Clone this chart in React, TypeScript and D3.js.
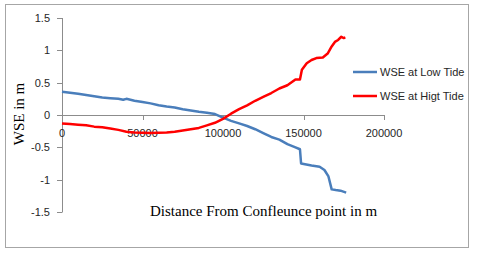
import React from "react";
import * as d3 from "d3";

const xTicks = [0, 50000, 100000, 150000, 200000];
const yTicks = [1.5, 1, 0.5, 0, -0.5, -1, -1.5];

const lowX = [0, 5000, 10000, 15000, 20000, 25000, 30000, 35000, 38000, 40000, 45000, 50000, 55000, 60000, 65000, 70000, 75000, 80000, 85000, 90000, 95000, 100000, 105000, 110000, 115000, 120000, 125000, 130000, 135000, 140000, 145000, 147800, 148500, 155000, 160000, 163000, 165500, 167500, 170000, 173000, 176500];
const lowY = [0.36, 0.345, 0.33, 0.31, 0.29, 0.27, 0.26, 0.25, 0.235, 0.25, 0.22, 0.2, 0.18, 0.15, 0.13, 0.115, 0.09, 0.07, 0.05, 0.035, 0.015, -0.04, -0.09, -0.13, -0.17, -0.22, -0.28, -0.34, -0.38, -0.45, -0.5, -0.53, -0.75, -0.78, -0.8, -0.85, -0.95, -1.15, -1.16, -1.17, -1.2];

const highX = [0, 5000, 10000, 15000, 20000, 25000, 30000, 35000, 40000, 45000, 50000, 55000, 60000, 65000, 70000, 75000, 80000, 85000, 90000, 95000, 100000, 105000, 110000, 115000, 120000, 125000, 130000, 135000, 140000, 145000, 147800, 149000, 152000, 155000, 158000, 162000, 165000, 167500, 169500, 171500, 173500, 175000, 176000];
const highY = [-0.13, -0.14, -0.15, -0.16, -0.18, -0.19, -0.21, -0.23, -0.26, -0.27, -0.275, -0.28, -0.275, -0.27, -0.26, -0.24, -0.22, -0.2, -0.16, -0.12, -0.06, 0.02, 0.09, 0.15, 0.22, 0.28, 0.34, 0.41, 0.46, 0.55, 0.55, 0.7, 0.8, 0.85, 0.88, 0.89, 0.95, 1.06, 1.13, 1.16, 1.21, 1.19, 1.2];

const seriesNames = ["WSE at Low Tide", "WSE at Higt Tide"];
const seriesColors = ["#4a7ebb", "#ff0000"];

export default function App() {
  const x = d3.scaleLinear().domain([0, 200000]).range([62, 384]);
  const y = d3.scaleLinear().domain([-1.5, 1.5]).range([212, 18]);
  const line = d3
    .line<[number, number]>()
    .x((d) => x(d[0]))
    .y((d) => y(d[1]))
    .curve(d3.curveLinear);
  const low: [number, number][] = lowX.map((v, i) => [v, lowY[i]]);
  const high: [number, number][] = highX.map((v, i) => [v, highY[i]]);
  const axisColor = "#8c8c8c";
  const sans = "'Liberation Sans', Arial, sans-serif";
  const serif = "'Liberation Serif', 'Times New Roman', serif";

  return (
    <svg
      width={480}
      height={254}
      style={{ position: "absolute", left: 0, top: 0, background: "#fff" }}
    >
      <rect x={5.5} y={4.5} width={463} height={243} fill="#fff" stroke="#a6a6a6" strokeWidth={1} />
      {/* y axis */}
      <line x1={62.5} x2={62.5} y1={y(1.5)} y2={y(-1.5)} stroke={axisColor} />
      {yTicks.map((t) => (
        <g key={"y" + t}>
          <line x1={57} x2={62.5} y1={Math.round(y(t)) + 0.5} y2={Math.round(y(t)) + 0.5} stroke={axisColor} />
          <text x={50} y={y(t) + 4} textAnchor="end" fontSize={11} fontFamily={sans} fill="#262626">
            {String(t)}
          </text>
        </g>
      ))}
      {/* x axis */}
      <line x1={x(0)} x2={x(200000)} y1={y(0) + 0.5} y2={y(0) + 0.5} stroke={axisColor} />
      {xTicks.map((t) => (
        <g key={"x" + t}>
          <line x1={Math.round(x(t)) + 0.5} x2={Math.round(x(t)) + 0.5} y1={y(0)} y2={y(0) + 5} stroke={axisColor} />
          <text x={x(t)} y={137} textAnchor="middle" fontSize={11} fontFamily={sans} fill="#262626">
            {String(t)}
          </text>
        </g>
      ))}
      <path d={line(low) || ""} fill="none" stroke={seriesColors[0]} strokeWidth={2.5} strokeLinejoin="round" />
      <path d={line(high) || ""} fill="none" stroke={seriesColors[1]} strokeWidth={2.5} strokeLinejoin="round" />
      {/* axis titles */}
      <text
        transform={`translate(24,114) rotate(-90)`}
        textAnchor="middle"
        fontSize={15}
        fontFamily={serif}
        fill="#000"
      >
        WSE in m
      </text>
      <text x={150} y={216} fontSize={15} fontFamily={serif} fill="#000">
        Distance From Confleunce point in m
      </text>
      {/* legend */}
      {seriesNames.map((n, i) => (
        <g key={n}>
          <line x1={353} x2={377} y1={72 + i * 24} y2={72 + i * 24} stroke={seriesColors[i]} strokeWidth={2.5} />
          <text x={380} y={76 + i * 24} fontSize={11} fontFamily={sans} fill="#262626">
            {n}
          </text>
        </g>
      ))}
    </svg>
  );
}
